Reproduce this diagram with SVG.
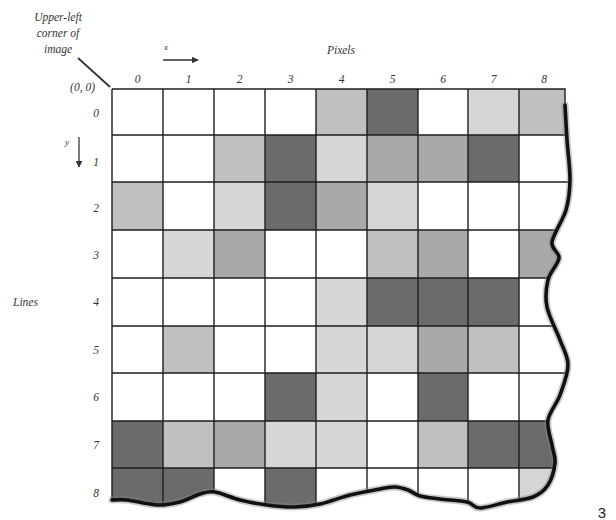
<svg xmlns="http://www.w3.org/2000/svg" width="616" height="520" viewBox="0 0 616 520">
<style>
.t{font-family:"Liberation Serif","DejaVu Serif",serif;font-style:italic;font-size:11.5px;fill:#333}
.m{text-anchor:middle}
.a{fill:#d6d6d6}.b{fill:#c0c0c0}.c{fill:#a9a9a9}.d{fill:#6b6b6b}
.g{stroke:#1e1e1e;stroke-width:1.4;fill:none}
</style>
<defs>
<marker id="ah" viewBox="0 0 10 10" refX="9" refY="5" markerWidth="7" markerHeight="7" orient="auto" markerUnits="userSpaceOnUse"><path d="M0,0 L10,5 L0,10 Z" fill="#333"/></marker>
<path id="edge" d="M565,105 C565.3,110.8 566.2,127.5 567,140 C567.8,152.5 570.2,168.3 570,180 C569.8,191.7 569,199.7 566,210 C563,220.3 553.2,234 552,242 C550.8,250 559.7,251.7 559,258 C558.3,264.3 550,271.8 548,280 C546,288.2 545,297 547,307 C549,317 556.5,330.3 560,340 C563.5,349.7 568,355.8 568,365 C568,374.2 563.3,385.8 560,395 C556.7,404.2 549.3,411.7 548,420 C546.7,428.3 550.8,437.8 552,445 C553.2,452.2 555.7,456.3 555,463 C554.3,469.7 551.7,479.3 548,485 C544.3,490.7 539.8,494.2 533,497 C526.2,499.8 515.8,500.2 507,502 C498.2,503.8 486.7,508 480,508 C473.3,508 473.7,503.5 467,502 C460.3,500.5 447.8,500 440,499 C432.2,498 425.3,497.5 420,496 C414.7,494.5 412.2,491.5 408,490 C403.8,488.5 399.7,487.2 395,487 C390.3,486.8 387.5,487.7 380,489 C372.5,490.3 360,492.5 350,495 C340,497.5 329.2,502 320,504 C310.8,506 303.8,506.8 295,507 C286.2,507.2 276.2,506.2 267,505 C257.8,503.8 248.7,502.2 240,500 C231.3,497.8 221.7,493 215,492 C208.3,491 205.8,492.3 200,494 C194.2,495.7 187.2,500.2 180,502 C172.8,503.8 165.8,505.3 157,505 C148.2,504.7 134.5,500.8 127,500 C119.5,499.2 114.5,500 112,500"/>
<clipPath id="clip"><path d="M112,89 L565,89 L565,105 C565.3,110.8 566.2,127.5 567,140 C567.8,152.5 570.2,168.3 570,180 C569.8,191.7 569,199.7 566,210 C563,220.3 553.2,234 552,242 C550.8,250 559.7,251.7 559,258 C558.3,264.3 550,271.8 548,280 C546,288.2 545,297 547,307 C549,317 556.5,330.3 560,340 C563.5,349.7 568,355.8 568,365 C568,374.2 563.3,385.8 560,395 C556.7,404.2 549.3,411.7 548,420 C546.7,428.3 550.8,437.8 552,445 C553.2,452.2 555.7,456.3 555,463 C554.3,469.7 551.7,479.3 548,485 C544.3,490.7 539.8,494.2 533,497 C526.2,499.8 515.8,500.2 507,502 C498.2,503.8 486.7,508 480,508 C473.3,508 473.7,503.5 467,502 C460.3,500.5 447.8,500 440,499 C432.2,498 425.3,497.5 420,496 C414.7,494.5 412.2,491.5 408,490 C403.8,488.5 399.7,487.2 395,487 C390.3,486.8 387.5,487.7 380,489 C372.5,490.3 360,492.5 350,495 C340,497.5 329.2,502 320,504 C310.8,506 303.8,506.8 295,507 C286.2,507.2 276.2,506.2 267,505 C257.8,503.8 248.7,502.2 240,500 C231.3,497.8 221.7,493 215,492 C208.3,491 205.8,492.3 200,494 C194.2,495.7 187.2,500.2 180,502 C172.8,503.8 165.8,505.3 157,505 C148.2,504.7 134.5,500.8 127,500 C119.5,499.2 114.5,500 112,500 Z"/></clipPath>
</defs>
<rect width="616" height="520" fill="#fff"/>

<g id="labels">
<text class="t m" x="58" y="21">Upper-left</text>
<text class="t m" x="58" y="37">corner of</text>
<text class="t m" x="58" y="53">image</text>
<text class="t" x="95" y="91" text-anchor="end">(0, 0)</text>
<text class="t m" x="166" y="50" style="font-size:9px">x</text>
<text class="t m" x="341" y="54">Pixels</text>
<text class="t m" x="67" y="145" style="font-size:9px">y</text>
<text class="t" x="13" y="306">Lines</text>
<g id="collabels">
<text class="t m" x="137.5" y="83">0</text>
<text class="t m" x="188.5" y="83">1</text>
<text class="t m" x="239.5" y="83">2</text>
<text class="t m" x="290.5" y="83">3</text>
<text class="t m" x="341.5" y="83">4</text>
<text class="t m" x="392.5" y="83">5</text>
<text class="t m" x="443" y="83">6</text>
<text class="t m" x="493.5" y="83">7</text>
<text class="t m" x="544" y="83">8</text>
</g>
<g id="rowlabels">
<text class="t m" x="96" y="117">0</text>
<text class="t m" x="96" y="166">1</text>
<text class="t m" x="96" y="212">2</text>
<text class="t m" x="96" y="259">3</text>
<text class="t m" x="96" y="306">4</text>
<text class="t m" x="96" y="354">5</text>
<text class="t m" x="96" y="401">6</text>
<text class="t m" x="96" y="449">7</text>
<text class="t m" x="96" y="497">8</text>
</g>
<text x="602" y="518" text-anchor="middle" style="font-family:'Liberation Sans','DejaVu Sans',sans-serif;font-size:15px;fill:#222">3</text>
</g>

<g id="connectors" stroke="#333" stroke-width="1.3" fill="none">
<line x1="78" y1="58" x2="110" y2="87" stroke-width="1.8"/>
<line x1="163" y1="60" x2="198" y2="60" marker-end="url(#ah)"/>
<line x1="79" y1="137" x2="79" y2="167" marker-end="url(#ah)"/>
</g>

<g id="grid" clip-path="url(#clip)">
<rect x="112" y="89" width="470" height="425" fill="#fff"/>
<g id="row0"><rect class="b" x="316" y="89" width="51" height="46"/><rect class="d" x="367" y="89" width="51" height="46"/><rect class="a" x="468" y="89" width="51" height="46"/><rect class="b" x="519" y="89" width="60" height="46"/></g>
<g id="row1"><rect class="b" x="214" y="135" width="51" height="47"/><rect class="d" x="265" y="135" width="51" height="47"/><rect class="a" x="316" y="135" width="51" height="47"/><rect class="c" x="367" y="135" width="51" height="47"/><rect class="c" x="418" y="135" width="50" height="47"/><rect class="d" x="468" y="135" width="51" height="47"/></g>
<g id="row2"><rect class="b" x="112" y="182" width="51" height="48"/><rect class="a" x="214" y="182" width="51" height="48"/><rect class="d" x="265" y="182" width="51" height="48"/><rect class="c" x="316" y="182" width="51" height="48"/><rect class="a" x="367" y="182" width="51" height="48"/></g>
<g id="row3"><rect class="a" x="163" y="230" width="51" height="48"/><rect class="c" x="214" y="230" width="51" height="48"/><rect class="b" x="367" y="230" width="51" height="48"/><rect class="c" x="418" y="230" width="50" height="48"/><rect class="c" x="519" y="230" width="60" height="48"/></g>
<g id="row4"><rect class="a" x="316" y="278" width="51" height="48"/><rect class="d" x="367" y="278" width="51" height="48"/><rect class="d" x="418" y="278" width="50" height="48"/><rect class="d" x="468" y="278" width="51" height="48"/></g>
<g id="row5"><rect class="b" x="163" y="326" width="51" height="47"/><rect class="a" x="316" y="326" width="51" height="47"/><rect class="a" x="367" y="326" width="51" height="47"/><rect class="c" x="418" y="326" width="50" height="47"/><rect class="b" x="468" y="326" width="51" height="47"/></g>
<g id="row6"><rect class="d" x="265" y="373" width="51" height="48"/><rect class="a" x="316" y="373" width="51" height="48"/><rect class="d" x="418" y="373" width="50" height="48"/></g>
<g id="row7"><rect class="d" x="112" y="421" width="51" height="47"/><rect class="b" x="163" y="421" width="51" height="47"/><rect class="c" x="214" y="421" width="51" height="47"/><rect class="a" x="265" y="421" width="51" height="47"/><rect class="a" x="316" y="421" width="51" height="47"/><rect class="b" x="418" y="421" width="50" height="47"/><rect class="d" x="468" y="421" width="51" height="47"/><rect class="d" x="519" y="421" width="60" height="47"/></g>
<g id="row8"><rect class="d" x="112" y="468" width="51" height="46"/><rect class="d" x="163" y="468" width="51" height="46"/><rect class="d" x="265" y="468" width="51" height="46"/><rect class="a" x="519" y="468" width="60" height="46"/></g>
<path class="g" d="M163,89V512M214,89V512M265,89V512M316,89V512M367,89V512M418,89V512M468,89V512M519,89V512M112,135H580M112,182H580M112,230H580M112,278H580M112,326H580M112,373H580M112,421H580M112,468H580"/>
</g>
<path class="g" d="M112,89H565V106M112,89V500" stroke-width="2"/>
<use href="#edge" fill="none" stroke="#888" stroke-width="7" stroke-opacity="0.45" stroke-linecap="round"/>
<use href="#edge" fill="none" stroke="#111" stroke-width="3.6" stroke-linecap="round"/>
</svg>
